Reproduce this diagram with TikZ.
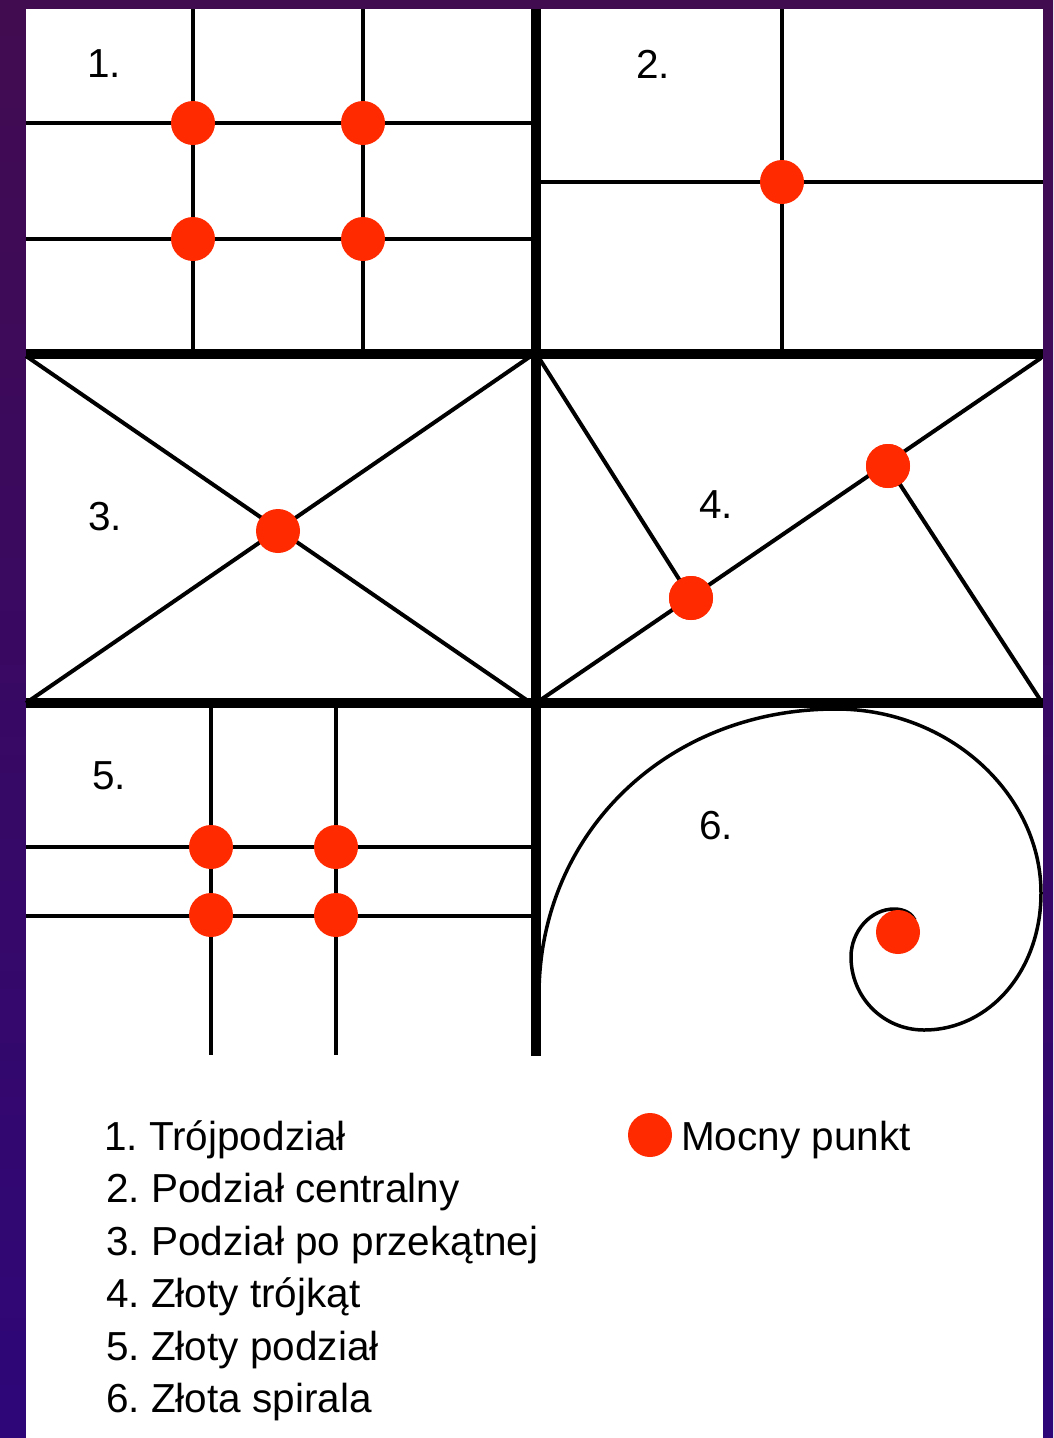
\documentclass[tikz,border=0pt]{standalone}
\usepackage{fontspec}
\setmainfont{Liberation Sans}
\frenchspacing
\definecolor{dotred}{RGB}{255,42,0}
\definecolor{bgtop}{RGB}{66,12,80}
\definecolor{bgbot}{RGB}{46,6,120}
\begin{document}
\begin{tikzpicture}[x=1pt,y=-1pt,
  guide/.style={line width=4pt, black},
  frameline/.style={line width=10pt, black},
  spiralline/.style={line width=3.5pt, black},
  pt/.style={circle, fill=dotred, draw=none, inner sep=0pt, minimum size=44pt},
  lbl/.style={font=\fontsize{40.5}{48}\selectfont, inner sep=0pt, anchor=base, text=black},
  leg/.style={lbl, anchor=base west}]
\useasboundingbox (0,0) rectangle (1053,1438);
\shade[top color=bgtop, bottom color=bgbot] (0,0) rectangle (1053,1438);
\fill[white] (26,9) rectangle (1043,1438);

% panel 1
\draw[guide] (193,9) -- (193,354);
\draw[guide] (363,9) -- (363,354);
\draw[guide] (26,123) -- (536,123);
\draw[guide] (26,239) -- (536,239);
% panel 2
\draw[guide] (782,9) -- (782,354);
\draw[guide] (536,182) -- (1043,182);
% panel 3
\draw[guide] (26,356) -- (531,703);
\draw[guide] (26,703) -- (531,356);
% panel 4
\coordinate (c4tl) at (539,358);
\coordinate (c4br) at (1041,701);
\draw[guide] (539,701) -- (1041,358);
\node[pt] (p4a) at (691,598) {};
\node[pt] (p4b) at (888,466) {};
\draw[guide] (c4tl) -- (p4a.center);
\draw[guide] (p4b.center) -- (c4br);
% panel 5
\draw[guide] (211,703) -- (211,1055);
\draw[guide] (336,703) -- (336,1055);
\draw[guide] (26,847) -- (536,847);
\draw[guide] (26,916) -- (536,916);
% panel 6 spiral
\draw[spiralline] (539,995) .. controls (539,835) and (665,709) .. (836,709)
  .. controls (950,709) and (1041,795) .. (1041,893)
  .. controls (1041,970) and (990,1030) .. (924,1030)
  .. controls (883,1030) and (851,997) .. (851,957)
  .. controls (851,931) and (871,909) .. (894,909)
  .. controls (905,909) and (912,914) .. (915,920);

% frame
\draw[frameline] (536,9) -- (536,1056);
\draw[frameline] (26,354) -- (1043,354);
\draw[frameline] (26,703) -- (1043,703);

% dots
\node[pt] (p1a) at (193,123) {};
\node[pt] (p1b) at (363,123) {};
\node[pt] (p1c) at (193,239) {};
\node[pt] (p1d) at (363,239) {};
\node[pt] (p2) at (782,182) {};
\node[pt] (p3) at (278,531) {};
\node[pt] (p4a') at (691,598) {};
\node[pt] (p4b') at (888,466) {};
\node[pt] (p5a) at (211,847) {};
\node[pt] (p5b) at (336,847) {};
\node[pt] (p5c) at (211,915) {};
\node[pt] (p5d) at (336,915) {};
\node[pt] (p6) at (898,932) {};

% panel labels
\node[lbl] (n1) at (104,77) {1.};
\node[lbl] (n2) at (653,78) {2.};
\node[lbl] (n3) at (105,530) {3.};
\node[lbl] (n4) at (716,518) {4.};
\node[lbl] (n5) at (109,789) {5.};
\node[lbl] (n6) at (716,839) {6.};

% legend
\node[leg] (l1) at (104,1150) {1. Trójpodział};
\node[leg] (l2) at (106,1202) {2. Podział centralny};
\node[leg] (l3) at (106,1255) {3. Podział po przekątnej};
\node[leg] (l4) at (106,1307) {4. Złoty trójkąt};
\node[leg] (l5) at (106,1360) {5. Złoty podział};
\node[leg] (l6) at (106,1412) {6. Złota spirala};
\node[pt] (ld) at (650,1135) {};
\node[leg] (lm) at (681,1150) {Mocny punkt};
\end{tikzpicture}
\end{document}
